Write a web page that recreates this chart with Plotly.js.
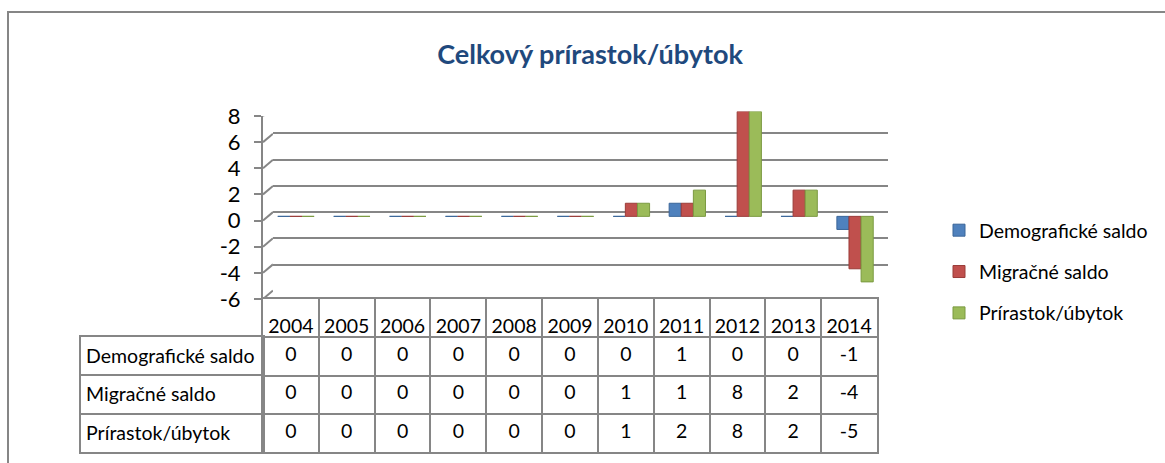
<!DOCTYPE html>
<html>
<head>
<meta charset="utf-8">
<script src="https://cdn.plot.ly/plotly-3.0.1.min.js"></script>
<style>html,body{margin:0;padding:0;background:#fff;}#chart{width:1165px;height:463px;}</style>
</head>
<body>
<div id="chart"></div>
<script>
// ---- data ----
const years = ['2004','2005','2006','2007','2008','2009','2010','2011','2012','2013','2014'];
const seriesNames = ['Demografické saldo', 'Migračné saldo', 'Prírastok/úbytok'];
const demografickeSaldo = [0, 0, 0, 0, 0, 0, 0, 1, 0, 0, -1];
const migracneSaldo     = [0, 0, 0, 0, 0, 0, 1, 1, 8, 2, -4];
const prirastokUbytok   = [0, 0, 0, 0, 0, 0, 1, 2, 8, 2, -5];
const yTicks = [-6, -4, -2, 0, 2, 4, 6, 8];
const yTickText = ['-6', '-4', '-2', '0', '2', '4', '6', '8'];
const titleText = 'Celkový prírastok/úbytok';
const HDR = '_hdr';

// ---- style ----
const W = 1165, H = 463;
const FONT = 'Lato, "Open Sans", sans-serif';
const TXT = 19.5;
const GRID = '#868686';
const colors = ['#4F81BD', '#C0504D', '#9BBB59'];
const edge = ['#3B6699', '#9A3C39', '#7B9A41'];
const DEPTH = 0.65; // perspective depth, in value units
const px = v => v / W;
const py = v => 1 - v / H;

const seriesValues = [demografickeSaldo, migracneSaldo, prirastokUbytok];

const traces = [];
// bars (mid depth)
seriesValues.forEach((vals, i) => {
  traces.push({
    type: 'bar', x: years, y: vals, name: seriesNames[i],
    xaxis: 'x2', yaxis: 'y2', legendgroup: 'g' + i,
    marker: {color: colors[i], line: {color: edge[i], width: 1}},
    hoverinfo: 'skip'
  });
});
// back wall dummy (for gridlines)
traces.push({type: 'scatter', x: [0], y: [0], mode: 'markers', marker: {opacity: 0},
  xaxis: 'x', yaxis: 'y', showlegend: false, hoverinfo: 'skip'});
// depth stubs from front axis to back wall
const sx = [], sy = [];
yTicks.forEach(v => { sx.push(0, 1, null); sy.push(v, v + DEPTH, null); });
traces.push({type: 'scatter', x: sx, y: sy, mode: 'lines', line: {color: GRID, width: 2},
  xaxis: 'x3', yaxis: 'y3', showlegend: false, hoverinfo: 'skip'});
// table: header years
traces.push({type: 'scatter', x: years, y: years.map(() => HDR), mode: 'text', text: years,
  textposition: 'bottom center', textfont: {family: FONT, size: TXT, color: '#000'},
  xaxis: 'x4', yaxis: 'y4', showlegend: false, hoverinfo: 'skip'});
// table: values
seriesValues.forEach((vals, i) => {
  traces.push({type: 'scatter', x: years, y: years.map(() => seriesNames[i]), mode: 'text',
    text: vals.map(String), textposition: 'middle center',
    textfont: {family: FONT, size: TXT, color: '#000'},
    xaxis: 'x4', yaxis: 'y4', showlegend: false, hoverinfo: 'skip'});
});
// table: row labels subplot dummy
traces.push({type: 'scatter', x: [0.5, 0.5, 0.5], y: seriesNames, mode: 'markers', marker: {opacity: 0},
  xaxis: 'x5', yaxis: 'y5', showlegend: false, hoverinfo: 'skip'});

const layout = {
  width: W, height: H,
  margin: {l: 0, r: 0, t: 0, b: 0},
  paper_bgcolor: '#fff', plot_bgcolor: 'rgba(0,0,0,0)',
  hovermode: false,
  font: {family: FONT, color: '#000'},
  title: {text: titleText, x: 590 / W, xanchor: 'center', y: py(55), yanchor: 'middle',
    font: {family: FONT, size: 27, weight: 700, color: '#1F497D'}},
  barmode: 'group', bargap: 0.35, bargroupgap: 0,
  showlegend: true,
  legend: {x: px(939), y: py(211), xanchor: 'left', yanchor: 'top',
    font: {family: FONT, size: TXT, color: '#000'}, tracegroupgap: 13,
    bgcolor: 'rgba(0,0,0,0)'},
  // back wall gridlines
  xaxis: {domain: [px(273), px(888)], range: [0, 1], showgrid: false, zeroline: false,
    showticklabels: false, ticks: '', showline: false, anchor: 'y'},
  yaxis: {domain: [py(291), py(107)], range: [-6, 8], tickvals: yTicks, showticklabels: false,
    showgrid: true, gridcolor: GRID, gridwidth: 2, zeroline: false, ticks: '', showline: false, anchor: 'x'},
  // bars
  xaxis2: {domain: [px(268), px(883)], type: 'category', categoryarray: years, range: [-0.5, 10.5],
    visible: false, anchor: 'y2'},
  yaxis2: {domain: [py(295), py(111.5)], range: [-6, 8], visible: false, anchor: 'x2'},
  // front value axis
  xaxis3: {domain: [px(263), px(273)], range: [0, 1], visible: false, anchor: 'y3'},
  yaxis3: {domain: [py(299), py(116)], range: [-6, 8], tickvals: yTicks, ticktext: yTickText,
    ticks: 'outside', ticklen: 7, tickwidth: 2, tickcolor: GRID, showline: true, linecolor: GRID,
    linewidth: 2, showgrid: false, zeroline: false, tickfont: {family: FONT, size: 22, color: '#000'},
    ticklabelstandoff: 9, anchor: 'x3'},
  // data table values
  xaxis4: {domain: [px(263), px(877)], type: 'category', categoryarray: years, range: [-0.5, 10.5],
    tickson: 'boundaries', showgrid: true, gridcolor: GRID, gridwidth: 2, showticklabels: false,
    ticks: '', showline: true, mirror: true, linecolor: GRID, linewidth: 2, zeroline: false, anchor: 'y4'},
  yaxis4: {domain: [py(452), py(299)], type: 'category', categoryarray: [HDR].concat(seriesNames),
    range: [3.5, -0.5], tickson: 'boundaries', showgrid: true, gridcolor: GRID, gridwidth: 2,
    showticklabels: false, ticks: '', showline: true, mirror: true, linecolor: GRID, linewidth: 2,
    zeroline: false, anchor: 'x4'},
  // data table row labels
  xaxis5: {domain: [px(81), px(263)], range: [0, 1], showgrid: false, showticklabels: false, ticks: '',
    showline: true, mirror: true, linecolor: GRID, linewidth: 2, zeroline: false, anchor: 'y5'},
  yaxis5: {domain: [py(452), py(337)], type: 'category', categoryarray: seriesNames,
    range: [2.5, -0.5], tickson: 'boundaries', showgrid: true, gridcolor: GRID, gridwidth: 2,
    ticks: '', ticklabelposition: 'inside', ticklabelstandoff: 6,
    tickfont: {family: FONT, size: TXT, color: '#000'},
    showline: true, mirror: true, linecolor: GRID, linewidth: 2, zeroline: false, anchor: 'x5'},
  shapes: [
    {type: 'rect', xref: 'paper', yref: 'paper', x0: px(8), x1: px(1175), y0: py(480), y1: py(12),
      line: {color: GRID, width: 2}, fillcolor: 'rgba(0,0,0,0)', layer: 'below'}
  ]
};

Plotly.newPlot('chart', traces, layout, {staticPlot: true, displayModeBar: false});
</script>
</body>
</html>
